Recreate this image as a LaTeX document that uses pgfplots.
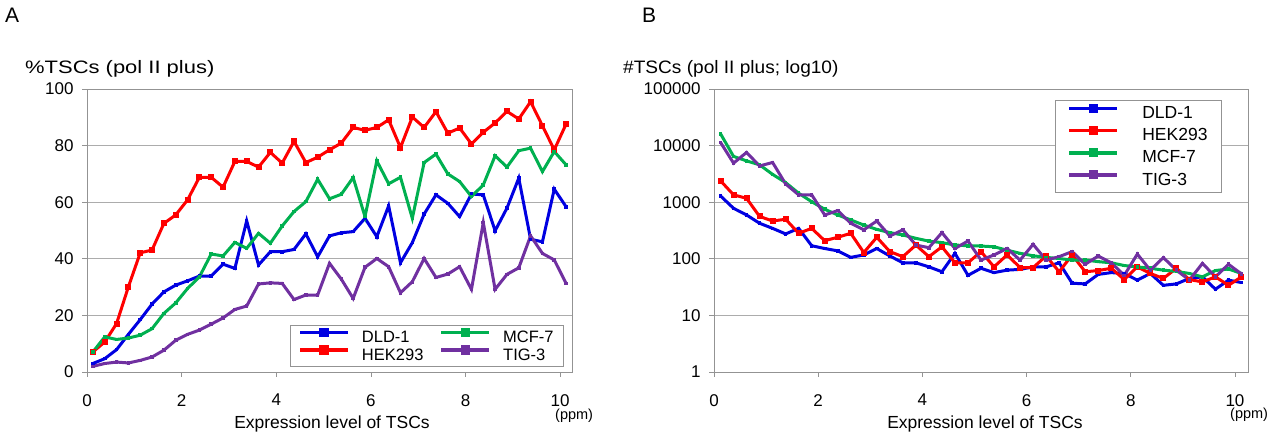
\documentclass[border=0pt]{standalone}
\usepackage{fontspec}
\setmainfont{Liberation Sans}
\usepackage{graphicx}
\usepackage{pgfplots}
\usepackage{pgfplotstable}
\pgfplotsset{compat=1.18}

\definecolor{cDLD}{RGB}{0,0,225}
\definecolor{cHEK}{RGB}{255,0,0}
\definecolor{cMCF}{RGB}{0,176,80}
\definecolor{cTIG}{RGB}{112,48,160}

\pgfplotstableread{
x dld hek mcf tig
0.125 3.0 7.1 7.1 2.0
0.375 4.7 10.6 12.4 3.0
0.625 7.9 17.1 11.5 3.5
0.875 13.3 30.1 12.0 3.2
1.125 18.5 42.1 13.0 4.1
1.375 24.0 43.1 15.3 5.3
1.625 28.3 52.5 20.7 7.7
1.875 30.7 55.5 24.4 11.2
2.125 32.2 60.8 29.5 13.3
2.375 33.9 68.8 33.6 14.8
2.625 33.9 68.8 41.7 16.9
2.875 38.1 65.3 41.0 19.1
3.125 36.6 74.4 45.8 22.1
3.375 53.4 74.4 43.7 23.3
3.625 37.8 72.4 49.0 31.1
3.875 42.5 77.6 45.5 31.5
4.125 42.5 73.8 51.6 31.3
4.375 43.3 81.5 56.7 25.6
4.625 48.8 74.0 60.2 27.2
4.875 40.7 75.9 68.1 27.2
5.125 48.1 78.5 61.2 38.4
5.375 49.2 80.9 62.8 32.8
5.625 49.6 86.4 68.7 26.0
5.875 54.3 85.4 54.9 37.0
6.125 47.8 86.4 74.6 40.1
6.375 58.7 89.1 66.5 37.2
6.625 38.6 79.3 68.8 28.0
6.875 45.7 90.1 54.3 31.9
7.125 55.8 86.4 74.0 40.1
7.375 62.6 92.0 77.0 33.4
7.625 59.6 84.4 70.0 34.6
7.875 54.9 86.2 67.3 37.2
8.125 62.9 80.6 62.0 29.2
8.375 62.6 84.7 66.1 52.8
8.625 49.9 88.0 76.4 29.2
8.875 57.9 92.1 72.4 34.5
9.125 68.5 89.4 78.2 36.8
9.375 46.9 95.5 79.1 48.1
9.625 46.0 87.0 70.8 41.9
9.875 64.6 78.5 77.9 39.6
10.125 58.4 87.6 73.2 31.3
}\dataA

\pgfplotstableread{
x dld hek mcf tig
0.125 1290 2390 16200 11400
0.375 780 1350 6440 4900
0.625 595 1170 5370 7570
0.875 424 560 4570 4370
1.125 345 465 3100 5030
1.375 275 500 2220 2100
1.625 345 282 1440 1350
1.875 170 345 1020 1350
2.125 152 209 750 595
2.375 138 240 595 710
2.625 106 282 485 424
2.875 117 129 395 325
3.125 152 240 331 465
3.375 112 134 290 253
3.625 85 109 263 325
3.875 85 175 230 175
4.125 72 109 205 157
4.375 59 163 193 290
4.625 125 85 175 152
4.875 51 85 170 206
5.125 68 134 168 95
5.375 57 72 163 117
5.625 63 117 142 152
5.875 65 70 125 95
6.125 72 70 113 180
6.375 72 112 106 95
6.625 85 59 101 109
6.875 37 117 95 134
7.125 36 59 95 80
7.375 53 62 89 112
7.625 57 68 85 85
7.875 55 43 76 51
8.125 42 72 72 121
8.375 55 55 68 63
8.625 34 45 63 105
8.875 36 68 60 63
9.125 45 43 55 42
9.375 48 39 48 83
9.625 29 48 62 48
9.875 42 34 66 80
10.125 38 48 55 54
}\dataB

\pgfplotsset{
  base/.style={
    scale only axis, height=283pt, xmin=0, xmax=10.25,
    xtick={0,2,...,10}, xtick pos=bottom, ytick pos=left,
    tick align=outside, major tick length=5pt,
    axis line style={draw=gray!85, line width=0.7pt},
    every tick/.style={gray!85, line width=0.7pt},
    ymajorgrids, grid style={gray!65, line width=0.7pt},
    tick label style={font=\fontsize{17}{20}\selectfont},
    xticklabel style={inner sep=0pt, yshift=-17pt},
    yticklabel style={xshift=-5pt},
    /pgf/number format/assume math mode=true,
    legend image code/.code={\draw[mark repeat=2,mark phase=2,##1] plot coordinates {(0pt,5pt) (24pt,5pt) (48pt,5pt)};},
    legend cell align=left,
  },
  sDLD/.style={cDLD, line width=3pt, mark=square*, mark size=1.3pt, mark options={solid, line width=0pt}},
  sHEK/.style={cHEK, line width=3pt, mark=square*, mark size=2.5pt, mark options={solid, line width=0pt}},
  sMCF/.style={cMCF, line width=3pt, mark=square*, mark size=1.3pt, mark options={solid, line width=0pt}},
  sTIG/.style={cTIG, line width=3pt, mark=square*, mark size=1.3pt, mark options={solid, line width=0pt}},
  lDLD/.style={cDLD, line width=3.8pt, mark=square*, mark size=4.2pt, mark options={solid, line width=0pt}},
  lHEK/.style={cHEK, line width=3.8pt, mark=square*, mark size=4.2pt, mark options={solid, line width=0pt}},
  lMCF/.style={cMCF, line width=3.8pt, mark=square*, mark size=4.2pt, mark options={solid, line width=0pt}},
  lTIG/.style={cTIG, line width=3.8pt, mark=square*, mark size=4.2pt, mark options={solid, line width=0pt}},
}

\begin{document}
\begin{tikzpicture}[x=1pt,y=1pt]
\useasboundingbox (0,0) rectangle (1280,435);

\begin{axis}[base, at={(87pt,63pt)}, anchor=south west, width=485pt,
  ymin=0, ymax=100, ytick={0,20,...,100},
  legend columns=2,
  legend style={at={(0.9835,0.0177)}, anchor=south east, draw=gray!85, line width=0.7pt,
    font=\fontsize{16.5}{18}\selectfont, inner xsep=8pt, inner ysep=3pt,
    /tikz/every odd column/.append style={column sep=10pt},
    /tikz/every even column/.append style={column sep=14pt}},
]
\addplot[sDLD, forget plot] table[x=x, y=dld] {\dataA};
\addplot[sHEK, forget plot] table[x=x, y=hek] {\dataA};
\addplot[sMCF, forget plot] table[x=x, y=mcf] {\dataA};
\addplot[sTIG, forget plot] table[x=x, y=tig] {\dataA};
\addlegendimage{lDLD}\addlegendentry{DLD-1}
\addlegendimage{lMCF}\addlegendentry{MCF-7}
\addlegendimage{lHEK}\addlegendentry{HEK293}
\addlegendimage{lTIG}\addlegendentry{TIG-3}
\end{axis}

\begin{axis}[base, at={(714pt,63pt)}, anchor=south west, width=534pt,
  ymode=log, ymin=1, ymax=100000, ytick={1,10,100,1000,10000,100000},
  yticklabels={1,10,100,1000,10000,100000}, yminorticks=false,
  legend style={at={(0.951,0.961)}, anchor=north east, draw=gray!85, line width=0.7pt,
    font=\fontsize{17.5}{19}\selectfont, inner xsep=12pt, inner ysep=4pt, row sep=4pt,
    /tikz/every odd column/.append style={column sep=21pt},
    /tikz/every even column/.append style={column sep=20pt}},
]
\addplot[sDLD, forget plot] table[x=x, y=dld] {\dataB};
\addplot[sHEK, forget plot] table[x=x, y=hek] {\dataB};
\addplot[sMCF, forget plot] table[x=x, y=mcf] {\dataB};
\addplot[sTIG, forget plot] table[x=x, y=tig] {\dataB};
\addlegendimage{lDLD}\addlegendentry{DLD-1}
\addlegendimage{lHEK}\addlegendentry{HEK293}
\addlegendimage{lMCF}\addlegendentry{MCF-7}
\addlegendimage{lTIG}\addlegendentry{TIG-3}
\end{axis}

\node[anchor=base west, font=\fontsize{21}{24}\selectfont, inner sep=0pt] at (5,412) {A};
\node[anchor=base west, font=\fontsize{21}{24}\selectfont, inner sep=0pt] at (642,412) {B};
\node[anchor=base west, inner sep=0pt] at (25,361) {\scalebox{1.22}[1]{\fontsize{18}{20}\selectfont \%TSCs (pol II plus)}};
\node[anchor=base west, inner sep=0pt] at (623,361) {\scalebox{1.06}[1]{\fontsize{18}{20}\selectfont \#TSCs (pol II plus; log10)}};
\node[anchor=base, inner sep=0pt, font=\fontsize{17.5}{20}\selectfont] at (332,6) {Expression level of TSCs};
\node[anchor=base, inner sep=0pt, font=\fontsize{17.5}{20}\selectfont] at (985,6) {Expression level of TSCs};
\node[anchor=base west, inner sep=0pt, font=\fontsize{14.5}{16}\selectfont] at (555,15) {(ppm)};
\node[anchor=base west, inner sep=0pt, font=\fontsize{14.5}{16}\selectfont] at (1230,16) {(ppm)};
\end{tikzpicture}
\end{document}
